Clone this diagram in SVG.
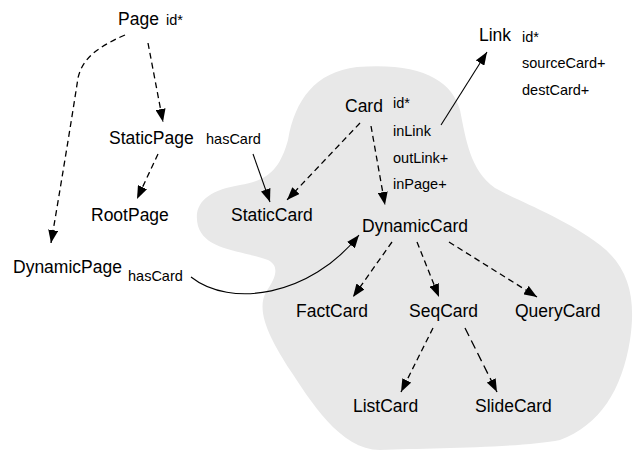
<svg xmlns="http://www.w3.org/2000/svg" width="633" height="451" viewBox="0 0 633 451">
  <defs>
    <marker id="head" viewBox="0 0 13 10" refX="13" refY="5" markerWidth="13" markerHeight="10" markerUnits="userSpaceOnUse" orient="auto">
      <path d="M0,0 L13,5 L0,10 Z" fill="#000"/>
    </marker>
    <style>
      text { font-family: "Liberation Sans", Arial, sans-serif; fill: #000; }
      .name { font-size: 17.5px; }
      .attr { font-size: 14.5px; }
      .isa { fill: none; stroke: #000; stroke-width: 1.3; stroke-dasharray: 6 4; marker-end: url(#head); }
      .rel { fill: none; stroke: #000; stroke-width: 1.1; marker-end: url(#head); }
    </style>
  </defs>
  <rect width="633" height="451" fill="#fff"/>

  <!-- shaded region holding the card classes -->
  <path id="card-region" fill="#e8e8e8" d="M357,67 C420,62 452,80 460,110 C466,140 470,170 495,188 C520,202 565,218 600,245 C630,268 636,300 630,340 C622,390 600,425 560,440 C520,448 430,448 380,450 C340,450 310,400 290,370 C272,342 255,312 266,292 C276,278 280,266 268,260 C240,250 205,250 198,226 C192,202 210,190 240,185 C270,180 280,168 288,140 C295,100 315,72 357,67 Z"/>

  <!-- connectors -->
  <g id="connectors">
    <path class="isa" d="M148,43 L163,122"/>
    <path class="isa" d="M125,35 C95,48 82,60 78,78 C70,130 60,190 51,243"/>
    <path class="isa" d="M158,154 L137,199"/>
    <path class="rel" d="M253,154 L270,202"/>
    <path class="isa" d="M360,123 L287,200"/>
    <path class="isa" d="M371,126 L385,205"/>
    <path class="rel" d="M441,125 L487,52"/>
    <path class="rel" d="M191,277 C230,308 310,297 359,235"/>
    <path class="isa" d="M392,242 L353,297"/>
    <path class="isa" d="M417,242 L439,297"/>
    <path class="isa" d="M449,242 L537,297"/>
    <path class="isa" d="M433,328 L401,392"/>
    <path class="isa" d="M465,328 L497,392" style="stroke-dasharray: 9 5"/>
  </g>

  <!-- nodes -->
  <g id="page">
    <text class="name" x="118" y="25">Page</text>
    <text class="attr" x="166" y="25">id*</text>
  </g>
  <g id="static-page">
    <text class="name" x="109" y="144">StaticPage</text>
    <text class="attr" x="206" y="144">hasCard</text>
  </g>
  <g id="root-page">
    <text class="name" x="91" y="221">RootPage</text>
  </g>
  <g id="dynamic-page">
    <text class="name" x="13" y="273">DynamicPage</text>
    <text class="attr" x="128" y="281">hasCard</text>
  </g>
  <g id="link">
    <text class="name" x="479" y="41">Link</text>
    <text class="attr" x="522" y="42">id*</text>
    <text class="attr" x="522" y="68">sourceCard+</text>
    <text class="attr" x="522" y="95">destCard+</text>
  </g>
  <g id="card">
    <text class="name" x="345" y="112">Card</text>
    <text class="attr" x="393" y="108">id*</text>
    <text class="attr" x="393" y="136">inLink</text>
    <text class="attr" x="393" y="163">outLink+</text>
    <text class="attr" x="393" y="189">inPage+</text>
  </g>
  <g id="static-card">
    <text class="name" x="231" y="221">StaticCard</text>
  </g>
  <g id="dynamic-card">
    <text class="name" x="362" y="232">DynamicCard</text>
  </g>
  <g id="fact-card">
    <text class="name" x="296" y="317">FactCard</text>
  </g>
  <g id="seq-card">
    <text class="name" x="409" y="317">SeqCard</text>
  </g>
  <g id="query-card">
    <text class="name" x="515" y="317">QueryCard</text>
  </g>
  <g id="list-card">
    <text class="name" x="353" y="412">ListCard</text>
  </g>
  <g id="slide-card">
    <text class="name" x="475" y="412">SlideCard</text>
  </g>
</svg>
